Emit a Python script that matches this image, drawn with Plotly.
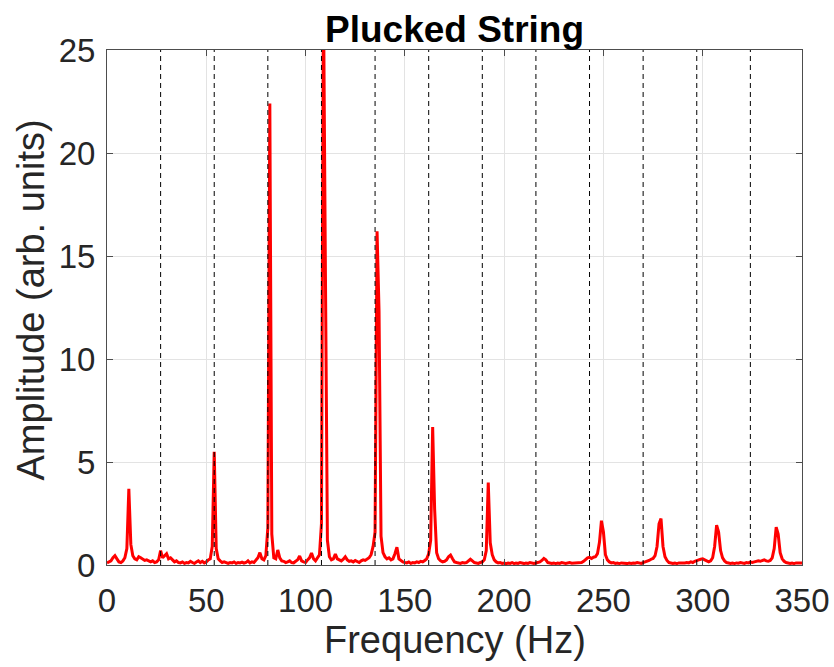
import numpy as np
import plotly.graph_objects as go

# ---- data ----
freq_start_hz = 0
freq_step_hz = 1.0
amplitude = [
    # 0-9
    0.10, 0.15, 0.20, 0.35, 0.45, 0.30, 0.15, 0.12, 0.20, 0.35,
    # 10-19
    0.80, 3.70, 1.00, 0.45, 0.30, 0.25, 0.40, 0.35, 0.30, 0.22,
    # 20-29
    0.25, 0.18, 0.15, 0.20, 0.12, 0.15, 0.25, 0.70, 0.35, 0.45,
    # 30-39
    0.55, 0.30, 0.35, 0.25, 0.15, 0.20, 0.12, 0.10, 0.15, 0.08,
    # 40-49
    0.12, 0.10, 0.18, 0.12, 0.08, 0.15, 0.20, 0.12, 0.18, 0.10,
    # 50-59
    0.15, 0.25, 0.30, 0.90, 5.50, 0.80, 0.30, 0.20, 0.12, 0.15,
    # 60-69
    0.10, 0.08, 0.12, 0.10, 0.15, 0.08, 0.12, 0.10, 0.14, 0.09,
    # 70-79
    0.12, 0.20, 0.10, 0.15, 0.12, 0.25, 0.35, 0.60, 0.30, 0.25,
    # 80-89
    0.45, 1.80, 22.4, 1.50, 0.35, 0.30, 0.73, 0.35, 0.20, 0.18,
    # 90-99
    0.12, 0.15, 0.20, 0.12, 0.10, 0.18, 0.25, 0.44, 0.20, 0.15,
    # 100-109
    0.12, 0.25, 0.35, 0.58, 0.30, 0.20, 0.35, 0.50, 2.00, 28.0,
    # 110-119
    14.1, 1.20, 0.40, 0.25, 0.30, 0.53, 0.30, 0.25, 0.20, 0.28,
    # 120-129
    0.40, 0.25, 0.18, 0.20, 0.15, 0.22, 0.18, 0.12, 0.20, 0.25,
    # 130-139
    0.22, 0.30, 0.35, 0.50, 0.90, 1.60, 16.2, 12.3, 1.40, 0.60,
    # 140-149
    0.40, 0.30, 0.35, 0.25, 0.30, 0.55, 0.86, 0.30, 0.20, 0.15,
    # 150-159
    0.12, 0.10, 0.15, 0.08, 0.12, 0.10, 0.15, 0.12, 0.18, 0.15,
    # 160-169
    0.22, 0.30, 0.55, 1.20, 6.70, 2.70, 0.60, 0.30, 0.20, 0.15,
    # 170-179
    0.18, 0.25, 0.40, 0.48, 0.30, 0.15, 0.12, 0.10, 0.08, 0.12,
    # 180-189
    0.10, 0.12, 0.18, 0.28, 0.20, 0.12, 0.10, 0.08, 0.12, 0.15,
    # 190-199
    0.25, 0.70, 4.00, 1.08, 0.50, 0.25, 0.15, 0.10, 0.12, 0.08,
    # 200-209
    0.10, 0.06, 0.10, 0.08, 0.12, 0.07, 0.10, 0.08, 0.12, 0.09,
    # 210-219
    0.07, 0.10, 0.08, 0.12, 0.10, 0.08, 0.10, 0.12, 0.15, 0.22,
    # 220-229
    0.32, 0.25, 0.12, 0.10, 0.08, 0.10, 0.07, 0.10, 0.08, 0.12,
    # 230-239
    0.10, 0.08, 0.10, 0.12, 0.09, 0.10, 0.12, 0.10, 0.14, 0.12,
    # 240-249
    0.18, 0.25, 0.35, 0.37, 0.32, 0.38, 0.40, 0.55, 1.10, 2.15,
    # 250-259
    1.60, 0.50, 0.25, 0.15, 0.10, 0.12, 0.08, 0.10, 0.07, 0.10,
    # 260-269
    0.08, 0.09, 0.07, 0.10, 0.08, 0.10, 0.09, 0.12, 0.10, 0.08,
    # 270-279
    0.12, 0.15, 0.18, 0.22, 0.28, 0.32, 0.45, 0.90, 2.00, 2.25,
    # 280-289
    0.90, 0.40, 0.22, 0.12, 0.10, 0.08, 0.10, 0.07, 0.10, 0.09,
    # 290-299
    0.08, 0.10, 0.12, 0.10, 0.15, 0.12, 0.18, 0.20, 0.25, 0.28,
    # 300-309
    0.30, 0.25, 0.20, 0.15, 0.20, 0.35, 0.90, 1.94, 1.60, 0.70,
    # 310-319
    0.35, 0.20, 0.12, 0.10, 0.08, 0.10, 0.07, 0.10, 0.09, 0.12,
    # 320-329
    0.10, 0.08, 0.12, 0.10, 0.14, 0.12, 0.15, 0.18, 0.20, 0.18,
    # 330-339
    0.22, 0.25, 0.20, 0.18, 0.22, 0.35, 0.80, 1.84, 1.50, 0.60,
    # 340-350
    0.30, 0.18, 0.12, 0.10, 0.08, 0.10, 0.07, 0.10, 0.09, 0.08, 0.10,
]
frequency = freq_start_hz + freq_step_hz * np.arange(len(amplitude))

# harmonic markers (dashed lines), multiples of the ~27 Hz fundamental
harmonic_hz = [27, 54, 81, 108, 135, 162, 189, 216, 243, 270, 297, 324]

x_ticks = [0, 50, 100, 150, 200, 250, 300, 350]
y_ticks = [0, 5, 10, 15, 20, 25]
x_range = [0, 350]
y_range = [0, 25]

title_text = "Plucked String"
x_label = "Frequency (Hz)"
y_label = "Amplitude (arb. units)"

# ---- figure ----
FONT = "Liberation Sans, Arial, sans-serif"
TXT = "#262626"
AX = "#4d4d4d"

fig = go.Figure()
fig.add_trace(go.Scatter(
    x=frequency, y=amplitude, mode="lines",
    line=dict(color="#ff0000", width=3),
    hoverinfo="skip", showlegend=False,
))

hx, hy = [], []
for h in harmonic_hz:
    hx += [h, h, None]
    hy += [y_range[0], y_range[1], None]
fig.add_trace(go.Scatter(
    x=hx, y=hy, mode="lines",
    line=dict(color="#000000", width=1, dash="5px,4px"),
    hoverinfo="skip", showlegend=False,
))

axis_common = dict(
    showline=True, linecolor=AX, linewidth=1, mirror="ticks",
    ticks="inside", ticklen=6, tickcolor=AX, tickwidth=1,
    showgrid=True, gridcolor="#e3e3e3", gridwidth=1,
    zeroline=False, automargin=False,
    tickfont=dict(family=FONT, size=33, color=TXT),
)

fig.update_layout(
    width=834, height=667,
    margin=dict(l=107, r=32, t=50, b=102, autoexpand=False),
    paper_bgcolor="white", plot_bgcolor="white",
    xaxis=dict(range=x_range, tickvals=x_ticks, ticklabelstandoff=6, **axis_common),
    yaxis=dict(range=y_range, tickvals=y_ticks, ticklabelstandoff=4, **axis_common),
    annotations=[
        dict(text="<b>" + title_text + "</b>", x=0.5, y=1, xref="paper", yref="paper",
             xanchor="center", yanchor="middle", showarrow=False, yshift=21,
             font=dict(family=FONT, size=37, color="#000000")),
        dict(text=x_label, x=0.5, y=0, xref="paper", yref="paper",
             xanchor="center", yanchor="middle", showarrow=False, yshift=-75,
             font=dict(family=FONT, size=38, color=TXT)),
        dict(text=y_label, x=0, y=0.5, xref="paper", yref="paper", textangle=-90,
             xanchor="center", yanchor="middle", showarrow=False, xshift=-77, yshift=7,
             font=dict(family=FONT, size=38, color=TXT)),
    ],
)

fig.write_html("out.html")
